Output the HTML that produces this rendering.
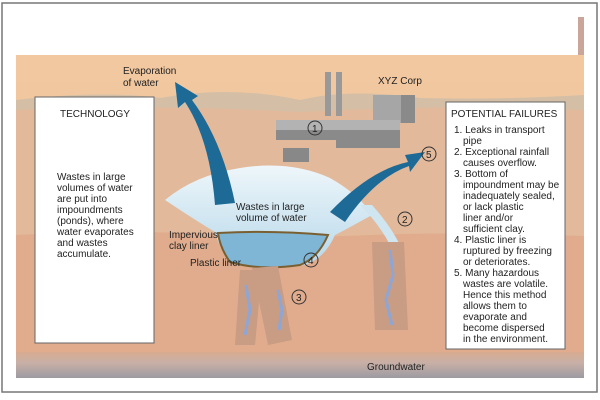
<!DOCTYPE html>
<html><head><style>
body{margin:0;width:600px;height:400px;background:#fff;overflow:hidden}
svg{display:block}
text{font-family:"Liberation Sans",sans-serif;font-size:10px;fill:#222}
</style></head><body>
<svg width="600" height="400" viewBox="0 0 600 400">
<defs>
<linearGradient id="sky" x1="0" y1="0" x2="0" y2="1"><stop offset="0" stop-color="#f2c9a0"/><stop offset="1" stop-color="#ebc09c"/></linearGradient>
<linearGradient id="gw" x1="0" y1="0" x2="0" y2="1"><stop offset="0" stop-color="#d8ab90"/><stop offset="0.4" stop-color="#c9b0a6"/><stop offset="1" stop-color="#9c9aa2"/></linearGradient>
<linearGradient id="water" x1="0" y1="0" x2="0" y2="1"><stop offset="0" stop-color="#eef6fa"/><stop offset="1" stop-color="#b6d8ea"/></linearGradient>
</defs>
<rect x="2" y="3" width="595" height="389" fill="#fff" stroke="#777" stroke-width="1.5"/>
<rect x="16" y="17" width="568" height="361" fill="url(#sky)"/>
<rect x="16" y="17" width="562" height="38" fill="#fff"/>
<rect x="578" y="17" width="6" height="38" fill="#c9a59a"/>
<path d="M16 100 Q100 90 160 98 Q230 85 300 100 Q350 88 420 98 Q500 100 584 95 L584 378 L16 378Z" fill="#d4bfa6"/>
<path d="M16 110 Q150 104 300 112 Q450 104 584 110 L584 378 L16 378Z" fill="#e3b99b"/>
<path d="M16 235 Q150 228 300 238 Q450 230 584 236 L584 378 L16 378Z" fill="#e0ac8d"/>
<rect x="16" y="352" width="568" height="26" fill="url(#gw)"/>
<!-- factory -->
<rect x="325" y="72" width="6" height="44" fill="#999"/><rect x="336" y="72" width="6" height="44" fill="#999"/>
<rect x="373" y="95" width="42" height="28" fill="#8a8a8a"/><rect x="373" y="95" width="28" height="28" fill="#a6a6a6"/>
<path d="M276 120 L400 120 L400 135 L276 135Z" fill="#b3b3b3"/>
<path d="M276 130 L400 130 L400 148 L336 148 L336 140 L276 140Z" fill="#8a8a8a"/>
<circle cx="315" cy="128" r="7" fill="none" stroke="#333"/><text x="312" y="132" font-size="9">1</text>
<rect x="283" y="148" width="26" height="14" fill="#888"/>
<!-- pond -->
<path d="M165 200 Q195 175 240 168 Q290 160 330 178 Q360 195 372 215 Q345 230 335 235 Q325 258 305 265 Q260 272 230 262 Q218 245 215 232 Q195 220 165 200Z" fill="url(#water)"/>
<path d="M218 233 Q270 230 328 235 Q318 258 300 265 Q260 271 230 262 Q220 248 218 233Z" fill="#7fb6d6" stroke="#7a6030" stroke-width="2"/>
<path d="M360 205 Q380 225 390 245 L400 245 Q390 225 372 205Z" fill="#cfe5f0"/>
<!-- arrows -->
<path d="M215 205 Q210 140 185 102 L178 108 L175 82 L198 96 L192 100 Q222 140 235 203Z" fill="#1d6a96"/>
<path d="M330 212 Q370 170 408 162 L405 155 L425 152 L410 172 L409 166 Q375 178 345 222Z" fill="#1d6a96"/>
<!-- leak plumes -->
<path d="M252 268 L278 266 L292 340 L268 345Z" fill="#c99c84"/>
<path d="M240 270 L262 270 L255 345 L235 345Z" fill="#c99c84"/>
<path d="M372 242 L404 242 L408 330 L375 330Z" fill="#c99c84"/>
<path d="M390 250 L393 275 L386 300 L392 325" stroke="#8ea6d6" stroke-width="3" fill="none"/>
<path d="M278 290 L282 310 L279 330" stroke="#8ea6d6" stroke-width="3" fill="none"/>
<path d="M246 285 L250 310 L245 335" stroke="#8ea6d6" stroke-width="3" fill="none"/>
<g fill="none" stroke="#333"><circle cx="429" cy="154" r="7"/><circle cx="405" cy="219" r="7"/><circle cx="311" cy="260" r="7"/><circle cx="299" cy="297" r="7"/></g>
<text x="426" y="158" font-size="9">5</text><text x="402" y="223" font-size="9">2</text><text x="308" y="264" font-size="9">4</text><text x="296" y="301" font-size="9">3</text>
<text x="123" y="74">Evaporation</text><text x="123" y="86">of water</text>
<text x="378" y="84" font-size="11">XYZ Corp</text>
<text x="236" y="210">Wastes in large</text><text x="236" y="221">volume of water</text>
<text x="169" y="238" font-size="9.5">Impervious</text><text x="169" y="249" font-size="9.5">clay liner</text>
<text x="190" y="266" font-size="9.5">Plastic liner</text>
<text x="367" y="370" font-size="9.5">Groundwater</text>
<!-- boxes -->
<rect x="35" y="97" width="119" height="246" fill="#fff" stroke="#666"/>
<text x="60" y="117" font-size="10.5">TECHNOLOGY</text>
<g font-size="10"><text x="57" y="180">Wastes in large</text><text x="57" y="191">volumes of water</text><text x="57" y="202">are put into</text><text x="57" y="213">impoundments</text><text x="57" y="224">(ponds), where</text><text x="57" y="235">water evaporates</text><text x="57" y="246">and wastes</text><text x="57" y="257">accumulate.</text></g>
<rect x="446" y="102" width="119" height="247" fill="#fff" stroke="#666"/>
<text x="451" y="117" font-size="10">POTENTIAL FAILURES</text>
<g font-size="9.5">
<text x="454" y="133">1. Leaks in transport</text><text x="463" y="144">pipe</text>
<text x="454" y="155">2. Exceptional rainfall</text><text x="463" y="166">causes overflow.</text>
<text x="454" y="177">3. Bottom of</text><text x="463" y="188">impoundment may be</text><text x="463" y="199">inadequately sealed,</text><text x="463" y="210">or lack plastic</text><text x="463" y="221">liner and/or</text><text x="463" y="232">sufficient clay.</text>
<text x="454" y="243">4. Plastic liner is</text><text x="463" y="254">ruptured by freezing</text><text x="463" y="265">or deteriorates.</text>
<text x="454" y="276">5. Many hazardous</text><text x="463" y="287">wastes are volatile.</text><text x="463" y="298">Hence this method</text><text x="463" y="309">allows them to</text><text x="463" y="320">evaporate and</text><text x="463" y="331">become dispersed</text><text x="463" y="342">in the environment.</text>
</g>
</svg>
</body></html>
